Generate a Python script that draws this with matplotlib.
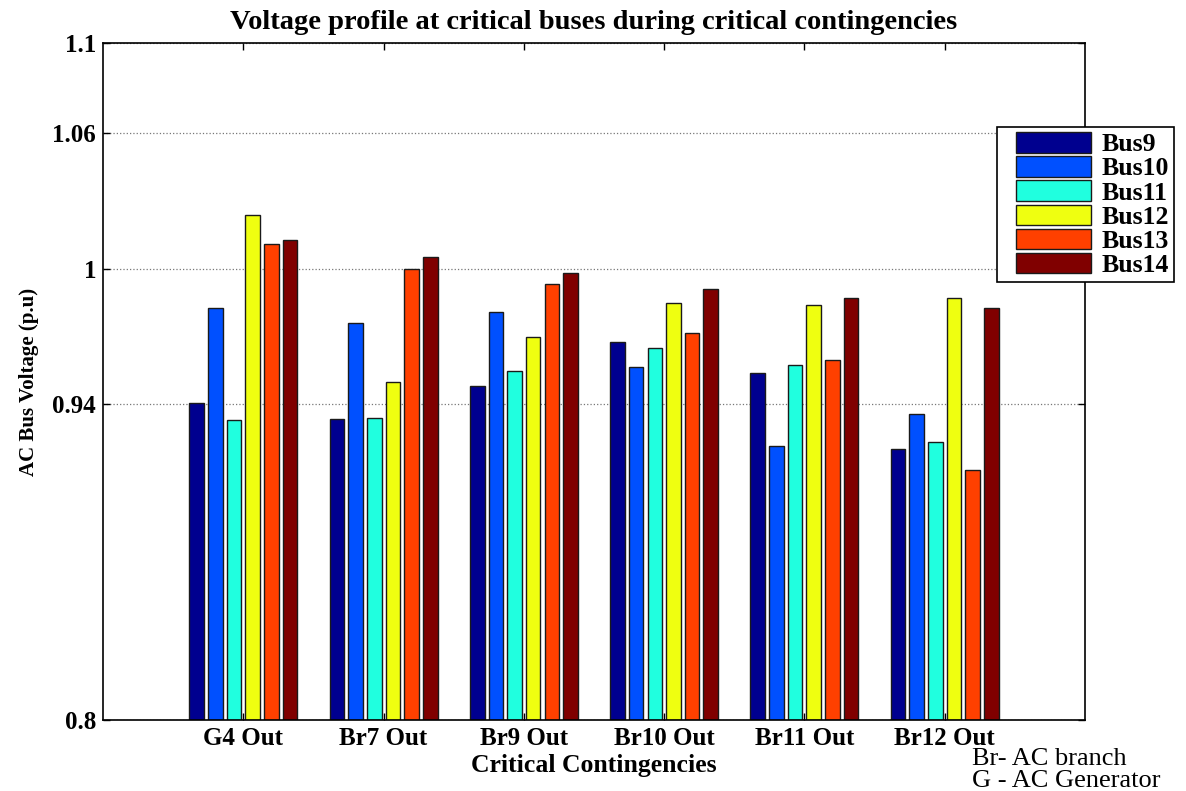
import matplotlib
matplotlib.use("Agg")
import matplotlib.pyplot as plt
from matplotlib.patches import Rectangle
from matplotlib.container import BarContainer
from matplotlib.legend_handler import HandlerPatch, update_from_first_child
import numpy as np

contingencies = ["G4 Out", "Br7 Out", "Br9 Out", "Br10 Out", "Br11 Out", "Br12 Out"]
buses = ["Bus9", "Bus10", "Bus11", "Bus12", "Bus13", "Bus14"]
bus9 = [0.9404, 0.9335, 0.9478, 0.9677, 0.9538, 0.9200]
bus10 = [0.9825, 0.9760, 0.9808, 0.9564, 0.9214, 0.9356]
bus11 = [0.9329, 0.9340, 0.9548, 0.9649, 0.9573, 0.9234]
bus12 = [1.0240, 0.9500, 0.9696, 0.9846, 0.9840, 0.9870]
bus13 = [1.0108, 1.0000, 0.9932, 0.9714, 0.9596, 0.9110]
bus14 = [1.0127, 1.0053, 0.9979, 0.9909, 0.9872, 0.9824]
series = [bus9, bus10, bus11, bus12, bus13, bus14]
colors = ["#00008F", "#0050FF", "#20FFDF", "#EFFF10", "#FF4000", "#800000"]
yticks = [0.8, 0.94, 1.0, 1.06, 1.1]
yticklabels = ["0.8", "0.94", "1", "1.06", "1.1"]

serif = ["Liberation Serif", "DejaVu Serif"]
plt.rcParams["font.family"] = serif

fig = plt.figure(figsize=(11.86, 7.91), dpi=100)
ax = fig.add_axes([103 / 1186, 1 - 720 / 791, 982 / 1186, 677 / 791])

x = np.arange(1, len(contingencies) + 1)
slot = 0.133
width = 0.104
for i, (vals, c, name) in enumerate(zip(series, colors, buses)):
    ax.bar(x + (i - 2.5) * slot, np.array(vals) - 0.8, width=width, bottom=0.8,
           color=c, edgecolor="#1a1a1a", linewidth=1.0, label=name, zorder=2)

ax.set_xlim(0, 7)
ax.set_ylim(0.8, 1.1)
ax.set_xticks(x)
ax.set_xticklabels(contingencies, fontsize=18, fontweight="bold")
ax.set_yticks(yticks)
ax.set_yticklabels(yticklabels, fontsize=18, fontweight="bold")
ax.tick_params(direction="in", top=True, right=True, length=5, width=1)
ax.tick_params(axis="x", pad=5)
ax.tick_params(axis="y", pad=5)
ax.set_axisbelow(True)
ax.yaxis.grid(True, linestyle=":", color="#777777", linewidth=0.9)
for s in ax.spines.values():
    s.set_linewidth(1.2)

ax.set_title("Voltage profile at critical buses during critical contingencies",
             fontsize=20.5, fontweight="bold", pad=10)
ax.set_ylabel("AC Bus Voltage (p.u)", fontsize=15, fontweight="bold")
ax.yaxis.set_label_coords(-0.065, 0.5)
ax.set_xlabel("Critical Contingencies", fontsize=18.5, fontweight="bold")
ax.xaxis.set_label_coords(0.5, -0.05)


def offset_patch(legend, orig_handle, xdescent, ydescent, width, height, fontsize):
    off = 10
    return Rectangle((-xdescent + off, -ydescent), width - off, height)


leg = fig.legend(loc="upper left", bbox_to_anchor=(997 / 1186, 1 - 127 / 791),
                 prop={"family": serif, "weight": "bold", "size": 18.5},
                 fancybox=False, edgecolor="black", framealpha=1,
                 handlelength=3.45, handleheight=0.85, labelspacing=0.0,
                 borderpad=0.2, handletextpad=0.4, borderaxespad=0,
                 handler_map={BarContainer: HandlerPatch(patch_func=offset_patch,
                                                         update_func=update_from_first_child)})
leg.get_frame().set_linewidth(1.2)

fig.text(972 / 1186, 1 - 759 / 791, "Br- AC branch", fontsize=19, va="center", ha="left")
fig.text(972 / 1186, 1 - 781 / 791, "G - AC Generator", fontsize=19, va="center", ha="left")

fig.savefig("out.png", dpi=100)
